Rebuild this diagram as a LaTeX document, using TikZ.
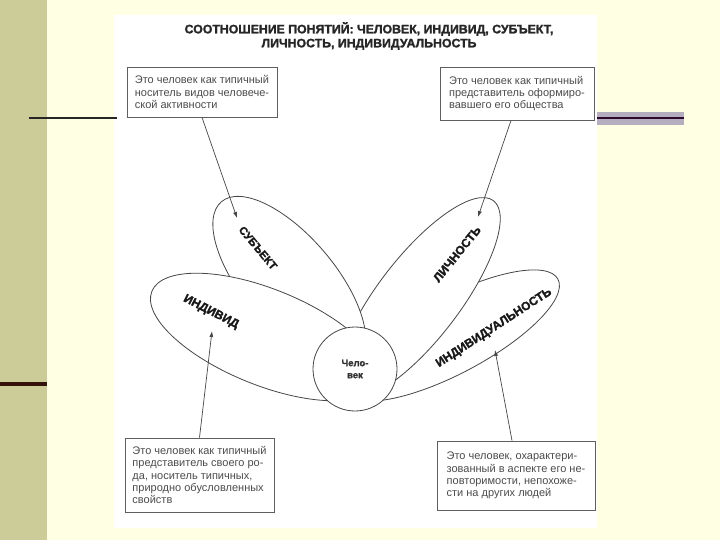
\documentclass[tikz,border=0pt]{standalone}
\usepackage{fontspec}
\setmainfont{Liberation Sans}
\newfontfamily\heavyfont[BoldFeatures={FakeBold=1.6}]{Liberation Sans}
\usetikzlibrary{shapes.geometric,arrows.meta}
\definecolor{cream}{RGB}{255,255,228}
\definecolor{olive}{RGB}{204,204,153}
\definecolor{barg}{RGB}{180,174,190}
\definecolor{barline}{RGB}{45,10,45}
\definecolor{bandline}{RGB}{50,18,10}
\definecolor{ink}{RGB}{70,70,70}
\definecolor{boxc}{RGB}{95,95,95}
\begin{document}
\begin{tikzpicture}[x=1pt,y=-1pt,
  petal/.style={ellipse, draw=ink, line width=0.8pt, fill=white, inner sep=0pt},
  lab/.style={font=\heavyfont\bfseries\fontsize{12}{12}\selectfont, text=black!90, inner sep=0pt},
  infobox/.style={draw=boxc, line width=0.9pt, fill=white, align=left, inner sep=0pt,
                  font=\fontsize{11}{12.3}\selectfont, text=black!70},
  arr/.style={draw=ink, line width=0.7pt, -{Latex[length=6pt,width=4pt]}}]
\useasboundingbox (0,0) rectangle (720,540);
% background
\fill[cream] (0,0) rectangle (720,540);
\fill[olive] (0,0) rectangle (47,540);
\fill[bandline] (0,381.5) rectangle (47,385.5);
\fill[white] (114,15) rectangle (597,528);
\draw[line width=2pt, color=black!85] (29,117.7) -- (116.5,117.7);
\fill[barg] (597,112) rectangle (684,125);
\draw[line width=1.8pt, color=barline] (597,118.3) -- (684,118.3);
% title
\node[font=\heavyfont\bfseries\fontsize{12.3}{14}\selectfont, align=center, text=black!85] (title) at (369,36)
  {СООТНОШЕНИЕ ПОНЯТИЙ: ЧЕЛОВЕК, ИНДИВИД, СУБЪЕКТ,\\ЛИЧНОСТЬ, ИНДИВИДУАЛЬНОСТЬ};
% petals
\node[petal, minimum width=240pt, minimum height=76pt, rotate=28] (pindv) at (452,335.5) {};
\node[petal, minimum width=246pt, minimum height=82pt, rotate=52.5] (plich) at (418.6,298.3) {};
\node[petal, minimum width=210pt, minimum height=92pt, rotate=-49.7] (psubj) at (289.3,281.8) {};
\node[petal, minimum width=244pt, minimum height=96pt, rotate=-22] (pind) at (265,337) {};
\node[circle, draw=ink, line width=0.8pt, fill=white, minimum size=84pt, inner sep=0pt,
      align=center, font=\heavyfont\bfseries\fontsize{9.5}{12}\selectfont, text=black!80] (man) at (355,369) {Чело-\\век};
% labels
\node[lab, rotate=-50, font=\heavyfont\bfseries\fontsize{11}{11}\selectfont] (lsubj) at (258,248) {СУБЪЕКТ};
\node[lab, rotate=-27] (lind) at (211,312) {ИНДИВИД};
\node[lab, rotate=51] (llich) at (457,254) {ЛИЧНОСТЬ};
\node[lab, rotate=33] (lindv) at (494,328) {ИНДИВИДУАЛЬНОСТЬ};
% boxes
\node[infobox, minimum width=150pt, minimum height=50pt] (b1) at (202,92)
  {Это человек как типичный\\носитель видов человече-\\ской активности};
\node[infobox, minimum width=154pt, minimum height=53pt] (b2) at (517,93.5)
  {Это человек как типичный\\представитель оформиро-\\вавшего его общества};
\node[infobox, minimum width=149pt, minimum height=74pt] (b3) at (199.5,475)
  {Это человек как типичный\\представитель своего ро-\\да, носитель типичных,\\природно обусловленных\\свойств};
\node[infobox, minimum width=158pt, minimum height=69pt] (b4) at (516,475.5)
  {Это человек, охарактери-\\зованный в аспекте его не-\\повторимости, непохоже-\\сти на других людей};
% arrow targets
\coordinate (tsubj) at (237,218);
\coordinate (tlich) at (478,217);
\coordinate (tind) at (212,331);
\coordinate (tindv) at (495,350);
% arrows
\draw[arr] (b1.south) -- (tsubj);
\draw[arr] ([xshift=-6pt]b2.south) -- (tlich);
\draw[arr] (b3.north) -- (tind);
\draw[arr] ([xshift=-4pt]b4.north) -- (tindv);
\end{tikzpicture}
\end{document}
